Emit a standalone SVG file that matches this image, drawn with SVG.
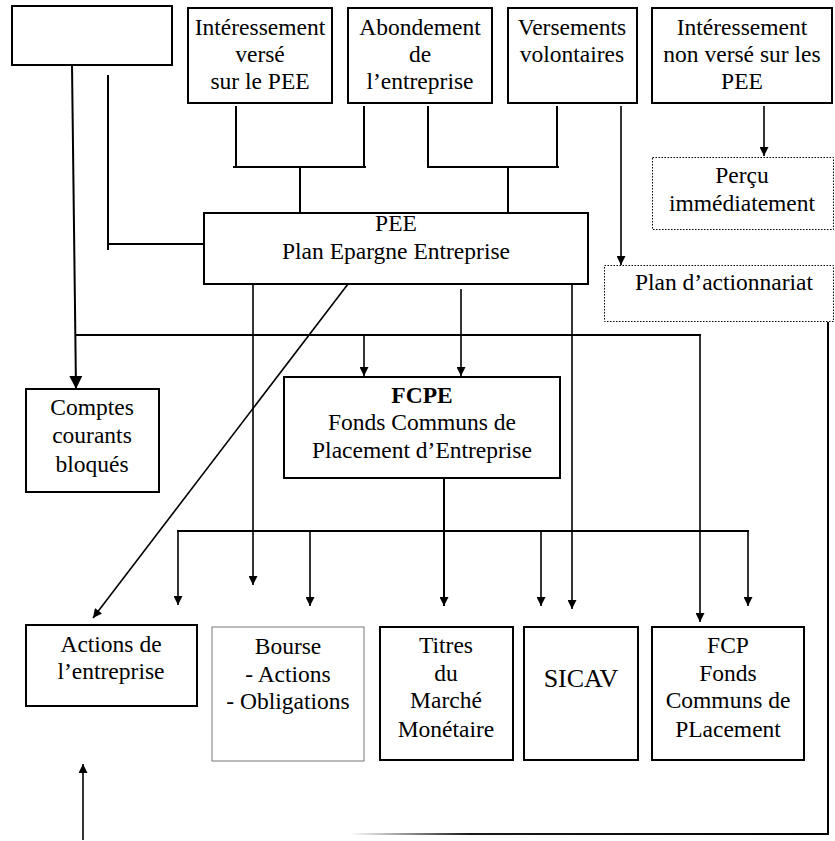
<svg xmlns="http://www.w3.org/2000/svg" width="835" height="841" viewBox="0 0 835 841" font-family="'Liberation Serif', 'Times New Roman', 'DejaVu Serif', serif">
<defs>
<marker id="ah" viewBox="0 0 10 10" refX="10" refY="5" markerWidth="10" markerHeight="9" markerUnits="userSpaceOnUse" orient="auto"><path d="M0,0 L10,5 L0,10 z" fill="#000"/></marker>
<marker id="ahb" viewBox="0 0 10 10" refX="10" refY="5" markerWidth="15" markerHeight="13" markerUnits="userSpaceOnUse" orient="auto"><path d="M0,0 L10,5 L0,10 z" fill="#000"/></marker>
<linearGradient id="fade" x1="350" y1="0" x2="828" y2="0" gradientUnits="userSpaceOnUse"><stop offset="0" stop-color="#000" stop-opacity="0"/><stop offset="0.25" stop-color="#000" stop-opacity="0.9"/><stop offset="1" stop-color="#000"/></linearGradient>
</defs>
<style>
.box{fill:#fff;stroke:#000;stroke-width:2}
.thin{fill:#fff;stroke:#777;stroke-width:1}
.dot{fill:#fff;stroke:#000;stroke-width:1;stroke-dasharray:1.5 1.5}
.t{font-family:'Liberation Serif','Times New Roman','DejaVu Serif',serif;font-size:23.5px;fill:#000;text-anchor:middle}
.b{font-weight:bold}
.big{font-size:26px}
.ln{fill:none;stroke:#000;stroke-width:2}
.lt{fill:none;stroke:#000;stroke-width:1.6}
</style>
<rect width="835" height="841" fill="#fff"/>
<g id="connectors">
<line class="ln" x1="72" y1="65" x2="76" y2="389" marker-end="url(#ahb)"/>
<polyline class="ln" points="108,75 108,250"/>
<line class="ln" x1="108" y1="244" x2="204" y2="244"/>
<line class="ln" x1="236" y1="106" x2="236" y2="168"/>
<line class="ln" x1="364" y1="106" x2="364" y2="168"/>
<line class="ln" x1="233" y1="167" x2="366" y2="167"/>
<line class="ln" x1="300" y1="167" x2="300" y2="213"/>
<line class="ln" x1="428" y1="106" x2="428" y2="168"/>
<line class="ln" x1="557" y1="106" x2="557" y2="168"/>
<line class="ln" x1="427" y1="167" x2="559" y2="167"/>
<line class="ln" x1="508" y1="167" x2="508" y2="213"/>
<line class="lt" x1="621" y1="106" x2="621" y2="265" marker-end="url(#ah)"/>
<line class="lt" x1="764" y1="106" x2="764" y2="156" marker-end="url(#ah)"/>
<line class="ln" x1="75" y1="335" x2="701" y2="335"/>
<line class="lt" x1="700" y1="335" x2="700" y2="622" marker-end="url(#ah)"/>
<line class="lt" x1="364" y1="335" x2="364" y2="376" marker-end="url(#ah)"/>
<line class="lt" x1="461" y1="289" x2="461" y2="376" marker-end="url(#ah)"/>
<line class="lt" x1="253" y1="284" x2="253" y2="585" marker-end="url(#ah)"/>
<line class="lt" x1="348" y1="284" x2="93" y2="618" marker-end="url(#ah)"/>
<line class="ln" x1="177" y1="531" x2="749" y2="531"/>
<line class="lt" x1="178" y1="531" x2="178" y2="605" marker-end="url(#ah)"/>
<line class="lt" x1="310" y1="531" x2="310" y2="606" marker-end="url(#ah)"/>
<line class="lt" x1="541" y1="531" x2="541" y2="606" marker-end="url(#ah)"/>
<line class="lt" x1="748" y1="531" x2="748" y2="606" marker-end="url(#ah)"/>
<line class="ln" x1="444" y1="472" x2="444" y2="606" marker-end="url(#ah)"/>
<line class="lt" x1="572" y1="272" x2="572" y2="609" marker-end="url(#ah)"/>
<line class="ln" x1="828" y1="322" x2="828" y2="835"/>
<line x1="350" y1="834" x2="829" y2="834" stroke="url(#fade)" stroke-width="2"/>
<line class="lt" x1="83" y1="840" x2="83" y2="764" marker-end="url(#ah)"/>
</g>
<g id="n-empty"><rect class="box" x="12" y="6" width="160" height="59"/></g>
<g id="n-interesse"><rect class="box" x="188" y="8" width="144" height="95"/>
<text class="t" x="260" y="35">Intéressement</text><text class="t" x="260" y="62">versé</text><text class="t" x="260" y="89">sur le PEE</text></g>
<g id="n-abondement"><rect class="box" x="348" y="8" width="144" height="95"/>
<text class="t" x="420" y="35">Abondement</text><text class="t" x="420" y="62">de</text><text class="t" x="420" y="89">l’entreprise</text></g>
<g id="n-versements"><rect class="box" x="508" y="8" width="129" height="95"/>
<text class="t" x="572" y="35">Versements</text><text class="t" x="572" y="62">volontaires</text></g>
<g id="n-nonverse"><rect class="box" x="652" y="8" width="180" height="95"/>
<text class="t" x="742" y="35">Intéressement</text><text class="t" x="742" y="62">non versé sur les</text><text class="t" x="742" y="89">PEE</text></g>
<g id="n-percu"><rect class="dot" x="652.5" y="157.5" width="181" height="72"/>
<text class="t" x="742" y="183">Perçu</text><text class="t" x="742" y="211">immédiatement</text></g>
<g id="n-plan"><rect class="dot" x="604.5" y="265.5" width="229" height="56"/>
<text class="t" x="724" y="290">Plan d’actionnariat</text></g>
<g id="n-pee"><rect class="box" x="204" y="213" width="384" height="71"/>
<text class="t" x="396" y="231">PEE</text><text class="t" x="396" y="259">Plan Epargne Entreprise</text></g>
<g id="n-fcpe"><rect class="box" x="284" y="377" width="276" height="101"/>
<text class="t b" x="422" y="403">FCPE</text><text class="t" x="422" y="430">Fonds Communs de</text><text class="t" x="422" y="458">Placement d’Entreprise</text></g>
<g id="n-comptes"><rect class="box" x="26" y="389" width="133" height="103"/>
<text class="t" x="92" y="415">Comptes</text><text class="t" x="92" y="443">courants</text><text class="t" x="92" y="472">bloqués</text></g>
<g id="n-actions"><rect class="box" x="26" y="625" width="171" height="81"/>
<text class="t" x="111" y="652">Actions de</text><text class="t" x="111" y="679">l’entreprise</text></g>
<g id="n-bourse"><rect class="thin" x="212" y="627" width="152" height="134"/>
<text class="t" x="288" y="654">Bourse</text><text class="t" x="288" y="682">- Actions</text><text class="t" x="288" y="709">- Obligations</text></g>
<g id="n-titres"><rect class="box" x="380" y="627" width="133" height="133"/>
<text class="t" x="446" y="653">Titres</text><text class="t" x="446" y="681">du</text><text class="t" x="446" y="708">Marché</text><text class="t" x="446" y="737">Monétaire</text></g>
<g id="n-sicav"><rect class="box" x="524" y="627" width="114" height="133"/>
<text class="t big" x="581" y="687">SICAV</text></g>
<g id="n-fcp"><rect class="box" x="652" y="627" width="152" height="133"/>
<text class="t" x="728" y="653">FCP</text><text class="t" x="728" y="681">Fonds</text><text class="t" x="728" y="708">Communs de</text><text class="t" x="728" y="737">PLacement</text></g>
</svg>
